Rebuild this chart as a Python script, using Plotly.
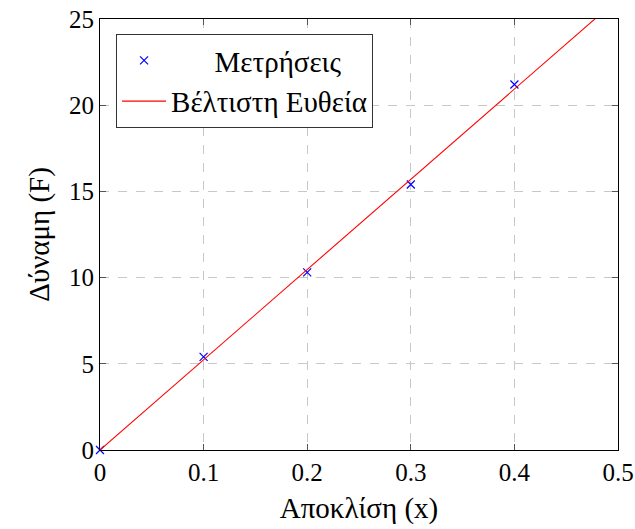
import plotly.graph_objects as go

# Data
meas_x = [0.0, 0.1, 0.2, 0.3, 0.4]
meas_y = [0.0, 5.4, 10.3, 15.4, 21.2]
fit_x = [0.0, 0.5]
fit_y = [0.0, 26.17]
x_ticks = [0, 0.1, 0.2, 0.3, 0.4, 0.5]
x_tick_labels = ["0", "0.1", "0.2", "0.3", "0.4", "0.5"]
y_ticks = [0, 5, 10, 15, 20, 25]
y_tick_labels = ["0", "5", "10", "15", "20", "25"]
series_names = ["\u00a0" * 6 + "Μετρήσεις", "Βέλτιστη Ευθεία"]

FONT = "Liberation Serif, serif"
FS_TICK = 25
FS_TEXT = 29

fig = go.Figure()
fig.add_trace(go.Scatter(
    x=meas_x, y=meas_y, mode="markers", name=series_names[0],
    marker=dict(symbol="x-thin", size=8, line=dict(color="blue", width=1.2), color="blue"),
    cliponaxis=False,
))
fig.add_trace(go.Scatter(
    x=fit_x, y=fit_y, mode="lines", name=series_names[1],
    line=dict(color="red", width=1.1),
))

axis_common = dict(
    showline=True, linecolor="black", linewidth=1.2, mirror="ticks",
    ticks="inside", ticklen=6, tickcolor="#555555", tickwidth=1.2,
    showgrid=True, gridcolor="#c8c8c8", griddash="dash", gridwidth=1,
    zeroline=False, automargin=False,
    tickfont=dict(family=FONT, size=FS_TICK, color="black"),
)

fig.update_xaxes(
    range=[0, 0.5], tickvals=x_ticks, ticktext=x_tick_labels,
    title=dict(text="Αποκλίση (x)", font=dict(family=FONT, size=FS_TEXT, color="black"), standoff=12),
    **axis_common,
)
fig.update_yaxes(
    range=[0, 25], tickvals=y_ticks, ticktext=y_tick_labels,
    title=dict(text="Δύναμη (F)", font=dict(family=FONT, size=FS_TEXT, color="black"), standoff=10),
    **axis_common,
)

fig.update_layout(
    width=635, height=529,
    margin=dict(l=100, r=17, t=19, b=79),
    paper_bgcolor="white", plot_bgcolor="white",
    showlegend=True,
    legend=dict(
        x=0.031, y=0.965, xanchor="left", yanchor="top",
        bgcolor="white", bordercolor="#333333", borderwidth=1,
        font=dict(family=FONT, size=FS_TEXT, color="black"),
        tracegroupgap=0, itemwidth=44,
    ),
)

fig.write_html("out.html", config={"displayModeBar": False},
               post_script="document.body.style.margin='0';")
